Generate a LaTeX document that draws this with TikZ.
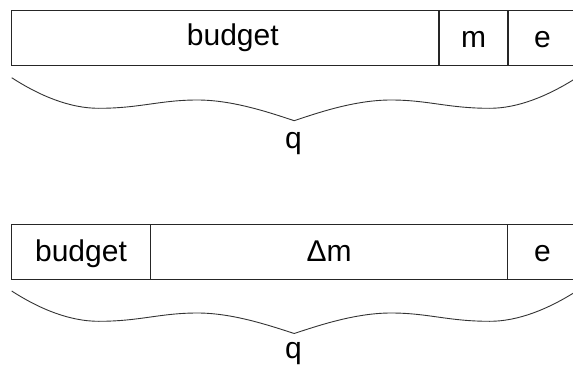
\documentclass[tikz,border=0pt]{standalone}
\usepackage{fontspec}
\setmainfont{Liberation Sans}
\begin{document}
\begin{tikzpicture}[x=1pt,y=-1pt,
  cell/.style={draw=black!85,line width=1.2pt,rectangle,inner sep=0pt,
    minimum height=55pt,text height=20.5pt,text depth=1.5pt,
    font=\fontsize{30}{36}\selectfont},
  brace/.style={draw=black!80,line width=0.9pt},
  lbl/.style={inner sep=0pt,anchor=base,font=\fontsize{30}{36}\selectfont}]
\useasboundingbox (0,0) rectangle (573,369);
% top row
\node[cell,minimum width=427.5pt] (tb) at (225.25,38.2) {};
\node[cell,minimum width=69pt] (tm) at (473.5,38.2) {m};
\node[cell,minimum width=69pt] (te) at (542.5,38.2) {e};
\node[lbl] (tbt) at (232.8,46) {budget};
% top brace
\coordinate (tl) at (11.7,77.7);
\coordinate (tt) at (294.2,120.7);
\coordinate (tr) at (576.7,77.7);
\draw[brace] (tl) .. controls (40,96) and (70,108.3) .. (98.7,108.3)
  .. controls (140,108.3) and (160,100) .. (197.4,100)
  .. controls (232,100) and (268,112) .. (tt)
  .. controls (320,112) and (356,100) .. (391,100)
  .. controls (428,100) and (448,108.3) .. (489.7,108.3)
  .. controls (518,108.3) and (548,96) .. (tr);
\node[lbl] (tq) at (293.5,148) {q};
% bottom row
\node[cell,minimum width=139.4pt] (bb) at (81,251.7) {budget};
\node[cell,minimum width=357pt] (bm) at (329.2,251.7) {Δm};
\node[cell,minimum width=69.3pt] (be) at (542.35,251.7) {e};
% bottom brace
\coordinate (bl) at (11.7,291);
\coordinate (bt) at (294.2,333.5);
\coordinate (br) at (576.7,291);
\draw[brace] (bl) .. controls (40,309.3) and (70,321.3) .. (98.7,321.3)
  .. controls (140,321.3) and (160,313) .. (197.4,313)
  .. controls (232,313) and (268,325) .. (bt)
  .. controls (320,325) and (356,313) .. (391,313)
  .. controls (428,313) and (448,321.3) .. (489.7,321.3)
  .. controls (518,321.3) and (548,309.3) .. (br);
\node[lbl] (bq) at (293.5,358.5) {q};
\end{tikzpicture}
\end{document}
